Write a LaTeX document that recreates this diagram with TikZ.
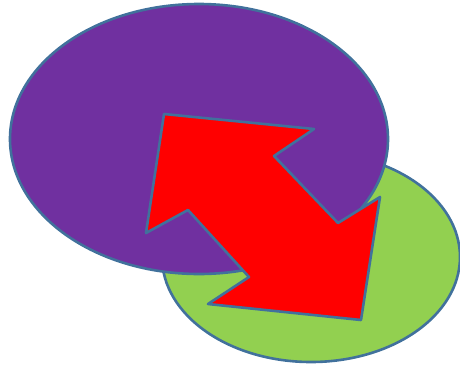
\documentclass[tikz,border=0pt]{standalone}
\usepackage{xcolor}
\usepackage{tikz}

\definecolor{outlineblue}{HTML}{41719C}
\definecolor{shapepurple}{HTML}{7030A0}
\definecolor{shapegreen}{HTML}{92D050}
\definecolor{arrowred}{HTML}{FF0000}

\begin{document}
\begin{tikzpicture}[
            x=1pt, y=-1pt,                     % pixel grid, y downward
            blob/.style={
                draw=outlineblue,
                line width=2.6pt,
                line join=round
            }
        ]
            \useasboundingbox (0,0) rectangle (460,368);

            % --- ELIPSES ---
            \filldraw [blob, fill=shapegreen] (311,257) ellipse [x radius=149, y radius=105];
            \filldraw [blob, fill=shapepurple] (199,139) ellipse [x radius=189, y radius=135];

            % --- FLECHA DOBLE ---
            \filldraw [blob, fill=arrowred]
                (164,114) -- (314,129) -- (274,156) -- (338,223)
                -- (380,197) -- (361,320) -- (208,304) -- (249,277)
                -- (188,210) -- (146,233) -- cycle;
        \end{tikzpicture}
\end{document}
